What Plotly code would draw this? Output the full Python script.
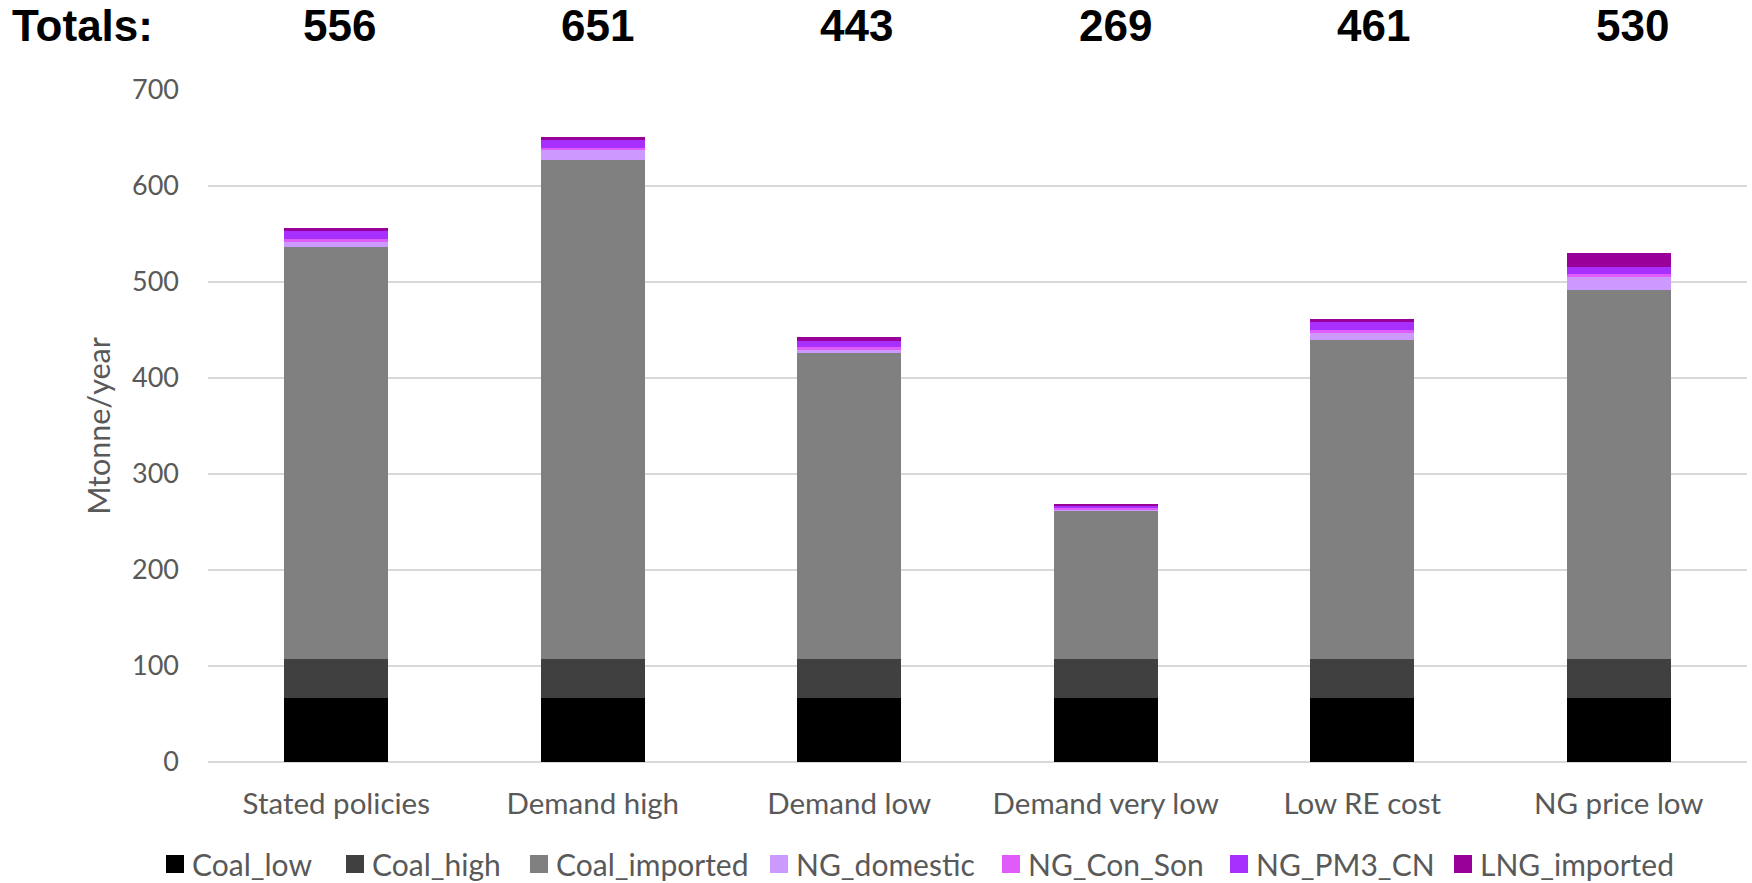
import plotly.graph_objects as go

# Scenario names along the x axis
scenarios = ["Stated policies", "Demand high", "Demand low",
             "Demand very low", "Low RE cost", "NG price low"]

# Fuel consumption by source, Mtonne/year
coal_low      = [67, 67, 67, 67, 67, 67]
coal_high     = [40, 40, 40, 40, 40, 40]
coal_imported = [429, 520, 320, 155, 333, 385]
ng_domestic   = [6, 10, 2, 1, 7, 13]
ng_con_son    = [3, 3, 3, 2, 3, 3]
ng_pm3_cn     = [8, 8, 7, 2, 8, 8]
lng_imported  = [3, 3, 4, 2, 3, 14]

series = [
    ("Coal_low", coal_low, "#000000"),
    ("Coal_high", coal_high, "#404040"),
    ("Coal_imported", coal_imported, "#808080"),
    ("NG_domestic", ng_domestic, "#CC99FF"),
    ("NG_Con_Son", ng_con_son, "#E05CF8"),
    ("NG_PM3_CN", ng_pm3_cn, "#A830FF"),
    ("LNG_imported", lng_imported, "#990099"),
]

totals = [sum(vals) for vals in zip(*[s[1] for s in series])]

GRAY_TEXT = "#595959"
FONT = "Lato"

# Page geometry (pixels) of the plotting area
W, H = 1752, 883
M_L, M_R, M_T, M_B = 208, 5, 90, 121
PLOT_W = W - M_L - M_R
PLOT_H = H - M_T - M_B


def px_to_paper_x(px):
    return (px - M_L) / PLOT_W


def px_to_paper_y(py):
    return (H - M_B - py) / PLOT_H


fig = go.Figure()
for name, vals, color in series:
    fig.add_trace(go.Bar(
        name=name, x=scenarios, y=vals,
        marker=dict(color=color, line=dict(width=0)),
        showlegend=False,
    ))

title_font = dict(family="Liberation Sans", size=44, color="#000000")
annotations = [dict(
    text="<b>Totals:</b>", xref="paper", yref="paper",
    x=px_to_paper_x(10), y=px_to_paper_y(25), xanchor="left", yanchor="middle",
    showarrow=False, font=title_font,
)]
for i, (cat, tot) in enumerate(zip(scenarios, totals)):
    annotations.append(dict(
        text=f"<b>{tot}</b>", xref="x", yref="paper",
        x=cat, y=px_to_paper_y(25), xanchor="center", yanchor="middle",
        xshift=3 + 2.1 * i,
        showarrow=False, font=title_font,
    ))

# Legend row below the axis: coloured square followed by the series name
legend_left = [166, 346, 530, 770, 1002, 1230, 1454]
SQ = 18
legend_cy = 864
shapes = []
for (name, _, color), left in zip(series, legend_left):
    shapes.append(dict(
        type="rect", xref="paper", yref="paper",
        x0=px_to_paper_x(left), x1=px_to_paper_x(left + SQ),
        y0=px_to_paper_y(legend_cy + SQ / 2), y1=px_to_paper_y(legend_cy - SQ / 2),
        fillcolor=color, line=dict(width=0),
    ))
    annotations.append(dict(
        text=name, xref="paper", yref="paper",
        x=px_to_paper_x(left + SQ + 6), y=px_to_paper_y(legend_cy),
        xanchor="left", yanchor="middle", showarrow=False,
        font=dict(family=FONT, size=30, color=GRAY_TEXT),
    ))

fig.update_layout(
    width=W, height=H,
    barmode="stack", bargap=0.595,
    plot_bgcolor="white", paper_bgcolor="white",
    margin=dict(l=M_L, r=M_R, t=M_T, b=M_B, pad=0),
    font=dict(family=FONT, color=GRAY_TEXT, size=29),
    annotations=annotations,
    shapes=shapes,
    showlegend=False,
    xaxis=dict(
        showgrid=False, showline=False, ticks="",
        tickfont=dict(family=FONT, size=29.5, color=GRAY_TEXT),
        ticklabelstandoff=21,
    ),
    yaxis=dict(
        range=[0, 700], dtick=100, tick0=0,
        showgrid=True, gridcolor="#D9D9D9", gridwidth=2,
        zeroline=True, zerolinecolor="#D9D9D9", zerolinewidth=2,
        showline=False, ticks="",
        tickfont=dict(family=FONT, size=27, color=GRAY_TEXT),
        ticklabelstandoff=28,
        title=dict(text="Mtonne/year", standoff=12,
                   font=dict(family=FONT, size=30.5, color=GRAY_TEXT)),
    ),
)

fig.write_html("out.html")
